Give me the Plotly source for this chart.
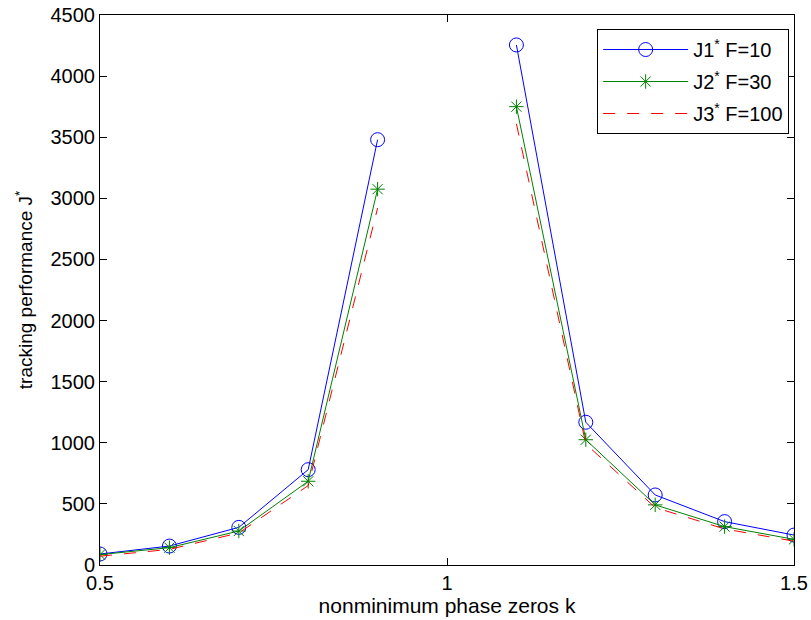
import plotly.graph_objects as go

k = [0.5, 0.6, 0.7, 0.8, 0.9, 1.0, 1.1, 1.2, 1.3, 1.4, 1.5]
J1 = [90, 155, 308, 780, 3480, None, 4255, 1168, 573, 355, 245]
J2 = [85, 142, 278, 685, 3075, None, 3750, 1025, 492, 314, 210]
J3 = [72, 128, 262, 650, 2920, None, 3610, 990, 470, 295, 195]
names = ["J1<sup>*</sup> F=10", "J2<sup>*</sup> F=30", "J3<sup>*</sup> F=100"]

fam = "Liberation Sans, Arial, Helvetica, sans-serif"
tickfont = dict(family=fam, size=20, color="black")
xtitlefont = dict(family=fam, size=21, color="black")
ytitlefont = dict(family=fam, size=19, color="black")
legfont = dict(family=fam, size=20, color="black")

fig = go.Figure()
fig.add_trace(go.Scatter(x=k, y=J1, name=names[0], legendgroup="a", mode="lines+markers",
                         line=dict(color="#0000FF", width=1),
                         marker=dict(symbol="circle-open", size=14, color="#0000FF", line=dict(width=1))))
fig.add_trace(go.Scatter(x=k, y=J2, name=names[1], legendgroup="b", mode="lines+markers",
                         line=dict(color="#008000", width=1),
                         marker=dict(symbol="asterisk-open", size=12, color="#008000", line=dict(width=1, color="#008000"))))
fig.add_trace(go.Scatter(x=k, y=J3, name=names[2], legendgroup="c", mode="lines",
                         line=dict(color="#FF0000", width=1, dash="12px,12px")))

axis_common = dict(showline=True, linecolor="black", linewidth=1, mirror="ticks",
                   ticks="inside", ticklen=7, tickcolor="black", showgrid=False, zeroline=False,
                   tickfont=tickfont, automargin=False, ticklabeloverflow="allow")
fig.update_xaxes(range=[0.5, 1.5], tickvals=[0.5, 1, 1.5], ticktext=["0.5", "1", "1.5"],
                 title=dict(text="nonminimum phase zeros k", font=xtitlefont, standoff=2), **axis_common)
fig.update_yaxes(range=[0, 4500], tickvals=list(range(0, 4501, 500)),
                 title=dict(text="tracking performance J<sup>*</sup>", font=ytitlefont, standoff=12), **axis_common)

fig.update_layout(
    width=811, height=620,
    margin=dict(l=100, r=17, t=15, b=55),
    paper_bgcolor="white", plot_bgcolor="white",
    font=tickfont,
    showlegend=True,
    legend=dict(x=0.993, y=0.9745, xanchor="right", yanchor="top",
                bordercolor="black", borderwidth=1, bgcolor="white",
                font=legfont, itemwidth=85, tracegroupgap=3),
)

fig.write_html("out.html", config={"displayModeBar": False},
               post_script="document.body.style.margin='0px';document.body.style.padding='0px';")
